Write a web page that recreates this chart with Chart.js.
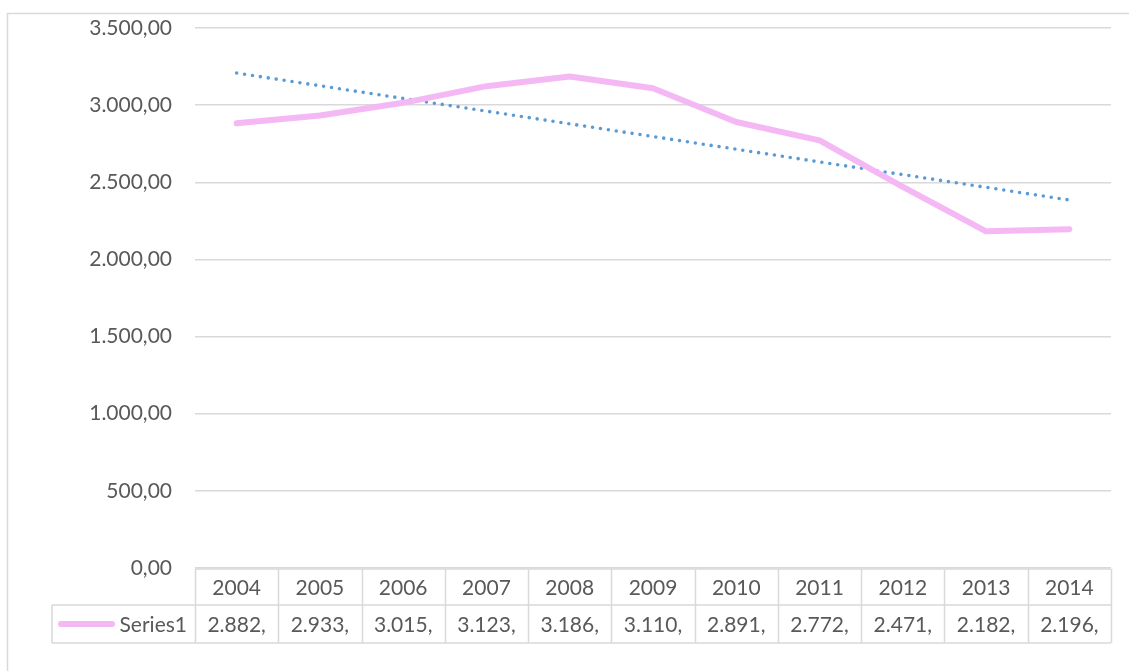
<!DOCTYPE html>
<html>
<head>
<meta charset="utf-8">
<script src="https://cdn.jsdelivr.net/npm/chart.js@4.4.1/dist/chart.umd.min.js"></script>
<style>
  html, body { margin: 0; padding: 0; background: #ffffff; }
  #wrap { width: 1129px; height: 671px; position: relative; }
</style>
</head>
<body>
<div id="wrap"><canvas id="myLineChart" width="1129" height="671"></canvas></div>
<script>
// data
var Years = ['2004', '2005', '2006', '2007', '2008', '2009', '2010', '2011', '2012', '2013', '2014'];
var Series1 = [2882, 2933, 3015, 3123, 3186, 3110, 2891, 2772, 2471, 2182, 2196];
// linear trendline, only its two end points (first and last year)
var TrendEnds = [3208, 2385];
var YTicks = [0, 500, 1000, 1500, 2000, 2500, 3000, 3500];

var textColor = '#595959';
var lineColor = '#d9d9d9';
var pink = '#f4b9f4';
var blue = '#5b9bd5';
var fontFamily = 'Lato, "Open Sans", sans-serif';

function fmtThousands(n) {
    var s = String(Math.floor(n));
    return s.replace(/\B(?=(\d{3})+(?!\d))/g, '.');
}

var trend = [];
for (var i = 0; i < Years.length; i++) trend.push(null);
trend[0] = TrendEnds[0];
trend[Years.length - 1] = TrendEnds[1];

// frame + data table under the plot
var tablePlugin = {
    id: 'dataTable',
    afterDraw: function (chart) {
        var ctx = chart.ctx;
        var x = chart.scales.x;
        var area = chart.chartArea;
        var n = Years.length;
        var colW = (area.right - area.left) / n;
        var top = area.bottom + 1;
        var mid = top + 36;
        var bot = mid + 38;
        var legL = 52;

        ctx.save();
        // outer chart frame
        ctx.strokeStyle = lineColor;
        ctx.lineWidth = 1.5;
        ctx.beginPath();
        ctx.moveTo(7.5, 680);
        ctx.lineTo(7.5, 13.5);
        ctx.lineTo(1140, 13.5);
        ctx.stroke();

        // table grid
        ctx.lineWidth = 1.5;
        ctx.beginPath();
        ctx.moveTo(area.left, top);
        ctx.lineTo(area.right, top);
        ctx.moveTo(legL, mid);
        ctx.lineTo(area.right, mid);
        ctx.moveTo(legL, bot);
        ctx.lineTo(area.right, bot);
        ctx.moveTo(legL, mid);
        ctx.lineTo(legL, bot);
        for (var i = 0; i <= n; i++) {
            var bx = Math.round(area.left + i * colW) + 0.5;
            ctx.moveTo(bx, top);
            ctx.lineTo(bx, bot);
        }
        ctx.stroke();

        // text
        ctx.fillStyle = textColor;
        ctx.font = '21px ' + fontFamily;
        ctx.textAlign = 'center';
        ctx.textBaseline = 'middle';
        for (var j = 0; j < n; j++) {
            var cx = x.getPixelForValue(j);
            ctx.fillText(Years[j], cx, (top + mid) / 2 + 1);
            ctx.fillText(fmtThousands(Series1[j]) + ',', cx, (mid + bot) / 2 + 1);
        }

        // legend key
        ctx.textAlign = 'right';
        ctx.fillText('Series1', area.left - 8, (mid + bot) / 2 + 1);
        ctx.strokeStyle = pink;
        ctx.lineWidth = 6;
        ctx.lineCap = 'round';
        ctx.beginPath();
        ctx.moveTo(61, (mid + bot) / 2);
        ctx.lineTo(112, (mid + bot) / 2);
        ctx.stroke();
        ctx.restore();
    }
};

var ctx_line = document.getElementById('myLineChart');

var MyLineChart = new Chart(ctx_line, {
    type: 'line',
    data: {
        labels: Years,
        datasets: [{
            label: 'Series1',
            data: Series1,
            borderColor: pink,
            backgroundColor: pink,
            borderWidth: 6,
            borderCapStyle: 'round',
            borderJoinStyle: 'round',
            pointRadius: 0,
            tension: 0,
            fill: false
        }, {
            label: 'Linear (Series1)',
            data: trend,
            borderColor: blue,
            borderWidth: 3.6,
            borderDash: [0, 8],
            borderCapStyle: 'round',
            pointRadius: 0,
            spanGaps: true,
            fill: false
        }]
    },
    options: {
        responsive: false,
        animation: false,
        events: [],
        layout: { padding: { top: 28, right: 18, bottom: 0, left: 0 } },
        plugins: {
            legend: { display: false },
            tooltip: { enabled: false }
        },
        scales: {
            x: {
                offset: true,
                grid: { display: false },
                border: { display: false },
                ticks: { display: false },
                afterFit: function (scale) { scale.height = 103; }
            },
            y: {
                min: 0,
                max: 3500,
                afterBuildTicks: function (scale) {
                    scale.ticks = YTicks.map(function (v) { return { value: v }; });
                },
                // invisible tick marks push the labels left without adding top padding
                grid: { color: lineColor, lineWidth: 1.5, drawTicks: true, tickLength: 23, tickColor: 'rgba(0,0,0,0)' },
                border: { display: false },
                ticks: {
                    color: textColor,
                    padding: 0,
                    font: { family: fontFamily, size: 21 },
                    callback: function (v) { return fmtThousands(v) + ',00'; }
                },
                afterFit: function (scale) { scale.width = 195; }
            }
        }
    },
    plugins: [tablePlugin]
});
</script>
</body>
</html>
